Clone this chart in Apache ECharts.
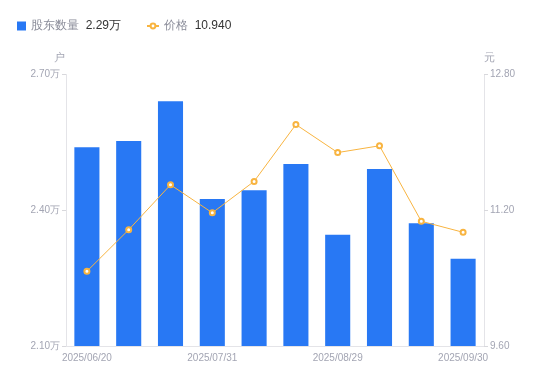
<!DOCTYPE html>
<html>
<head>
<meta charset="utf-8">
<script src="https://cdn.jsdelivr.net/npm/echarts@6/dist/echarts.min.js"></script>
<style>html,body{margin:0;padding:0;background:#fff;}#c{width:550px;height:381px;}</style>
</head>
<body>
<div id="c"></div>
<script>
var categories = ['2025/06/20','2025/06/30','2025/07/10','2025/07/31','2025/08/08','2025/08/20','2025/08/29','2025/09/10','2025/09/19','2025/09/30'];
var holders = [25390, 25530, 26410, 24250, 24440, 25020, 23460, 24910, 23710, 22930];
var prices = [10.48, 10.97, 11.50, 11.17, 11.54, 12.21, 11.88, 11.96, 11.07, 10.94];
var leftTicks = [21000, 24000, 27000];
var rightTicks = [9.6, 11.2, 12.8];

var lastH = (holders[holders.length-1]/10000).toFixed(2) + '万';
var lastP = prices[prices.length-1].toFixed(3);
var labelColor = '#a3a5b3';
var legendText = {
  rich: {
    n: {color:'#8a8c99', fontSize:12},
    v: {color:'#333333', fontSize:12}
  }
};
function fmt(n){
  return '{n|' + n + '}  {v|' + (n === '股东数量' ? lastH : lastP) + '}';
}
var chart = echarts.init(document.getElementById('c'), null, {renderer:'canvas'});
chart.setOption({
  animation: false,
  legend: [{
    left: 12, top: 15,
    itemWidth: 9, itemHeight: 9,
    data: [{name:'股东数量', icon:'rect'}],
    formatter: fmt, textStyle: legendText
  },{
    left: 141, top: 15,
    itemWidth: 12, itemHeight: 6,
    data: [{name:'价格'}],
    formatter: fmt, textStyle: legendText
  }],
  grid: {left: 66, right: 66, top: 74.5, bottom: 35},
  xAxis: {
    type: 'category',
    data: categories,
    axisLine: {lineStyle: {color:'#e4e4e8'}},
    axisTick: {show:false},
    axisLabel: {interval: 2, color: labelColor, fontSize: 10, margin: 7}
  },
  yAxis: [{
    type: 'value', name: '户', min: leftTicks[0], max: leftTicks[2], interval: leftTicks[1]-leftTicks[0],
    nameTextStyle: {color: labelColor, fontSize: 11, padding:[0,0,0,-14]},
    nameGap: 11,
    axisLine: {show:true, lineStyle:{color:'#e4e4e8'}},
    axisTick: {show:true, length:4, lineStyle:{color:'#d8d8dc'}},
    splitLine: {show:false},
    axisLabel: {color: labelColor, fontSize: 10, margin: 6, formatter: function(v){return (v/10000).toFixed(2)+'万';}}
  },{
    type: 'value', name: '元', min: rightTicks[0], max: rightTicks[2], interval: rightTicks[1]-rightTicks[0],
    nameTextStyle: {color: labelColor, fontSize: 11, padding:[0,0,0,10]},
    nameGap: 11,
    axisLine: {show:true, lineStyle:{color:'#e4e4e8'}},
    axisTick: {show:true, length:4, lineStyle:{color:'#d8d8dc'}},
    splitLine: {show:false},
    axisLabel: {color: labelColor, fontSize: 10, margin: 6, formatter: function(v){return v.toFixed(2);}}
  }],
  series: [{
    name: '股东数量', type: 'bar', data: holders, barWidth: '60%',
    itemStyle: {color: '#2878f4'}
  },{
    name: '价格', type: 'line', yAxisIndex: 1, data: prices,
    symbol: 'emptyCircle', symbolSize: 5,
    lineStyle: {color: '#f8b440', width: 1},
    itemStyle: {color: '#f8b440', borderWidth: 2}
  }]
});
</script>
</body>
</html>
